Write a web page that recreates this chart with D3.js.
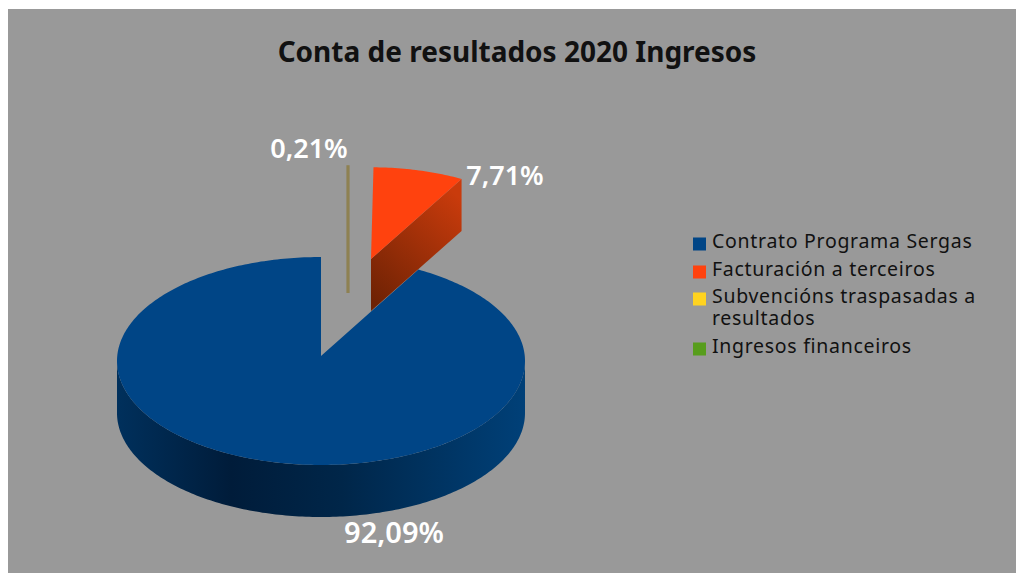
<!DOCTYPE html>
<html>
<head>
<meta charset="utf-8">
<script src="https://cdnjs.cloudflare.com/ajax/libs/d3/7.8.5/d3.min.js"></script>
<style>
html, body { margin: 0; background: #fff; }
svg { display: block; }
text { font-family: "Noto Sans", sans-serif; }
</style>
</head>
<body>
<script>
//chart data
var title = 'Conta de resultados 2020 Ingresos'
var categories = ['Contrato Programa Sergas', 'Facturación a terceiros', 'Subvencións traspasadas a resultados', 'Ingresos financeiros']
var values = [92.09, 7.71, 0.21, 0]
var colors = ['#004586', '#ff420e', '#ffd320', '#579d1c']
//clockwise order of the slices, starting at 12 o'clock
var pieOrder = [2, 1, 0, 3]

var w = 1016,
    h = 573,
    cx = 321, //center of the ellipse
    cy = 361,
    rx = 204, //horizontal radius
    ry = 104, //vertical radius
    apexLift = 5, //the apex sits a bit above the ellipse center (perspective)
    depth = 52

//how each slice is pulled out of the pie
var explode = [
    { dx: 0, dy: 0, k: 1, depth: depth },
    { dx: 50, dy: -97, k: 0.93, depth: depth },
    { dx: 26, dy: -97, k: 0.95, depth: 34 },
    { dx: 0, dy: 0, k: 1, depth: 0 }
]

var svg = d3.select('body').append('svg')
    .attr('width', w)
    .attr('height', h)

var defs = svg.append('defs')

//shading of the blue outer wall
var wall = defs.append('linearGradient')
    .attr('id', 'wall-blue')
    .attr('gradientUnits', 'userSpaceOnUse')
    .attr('x1', 117).attr('x2', 525).attr('y1', 0).attr('y2', 0)
wall.selectAll('stop')
    .data([[0, '#00305c'], [0.28, '#001c3a'], [0.55, '#002649'], [1, '#004078']])
    .enter().append('stop')
    .attr('offset', function(d) { return d[0] })
    .attr('stop-color', function(d) { return d[1] })

//shading of the orange cut face
var cut = defs.append('linearGradient')
    .attr('id', 'cut-orange')
    .attr('gradientUnits', 'userSpaceOnUse')
    .attr('x1', 371).attr('y1', 300).attr('x2', 462).attr('y2', 200)
cut.selectAll('stop')
    .data([[0, '#6e2204'], [1, '#c93b0c']])
    .enter().append('stop')
    .attr('offset', function(d) { return d[0] })
    .attr('stop-color', function(d) { return d[1] })

//background
svg.append('rect')
    .attr('x', 8).attr('y', 9)
    .attr('width', w - 8).attr('height', h - 9)
    .attr('fill', '#999999')

svg.append('text')
    .attr('x', 517).attr('y', 62)
    .attr('text-anchor', 'middle')
    .attr('font-size', 28)
    .attr('font-weight', 700)
    .attr('fill', '#111')
    .text(title)

//angle layout, d3.pie gives the angles in the order above
var slices = d3.pie()
    .sort(function(a, b) { return pieOrder.indexOf(a) - pieOrder.indexOf(b) })
    .value(function(i) { return values[i] })(d3.range(values.length))

var line = d3.line()

//angle clockwise from 12 o'clock -> screen point
function project(a, e, down) {
    return [cx + e.dx + rx * Math.sin(a) * e.k, cy + e.dy - ry * Math.cos(a) * e.k + (down || 0)]
}

function arcPoints(a0, a1, e, down) {
    var n = Math.max(2, Math.ceil(Math.abs(a1 - a0) * 60))
    return d3.range(n + 1).map(function(i) {
        return project(a0 + (a1 - a0) * i / n, e, down)
    })
}

function apex(e, down) {
    return [cx + e.dx, cy - apexLift + e.dy + (down || 0)]
}

function drawSlice(s) {
    var i = s.data, e = explode[i]
    if (values[i] === 0) return
    var g = svg.append('g').attr('class', 'slice')

    //outer wall, only the part facing the viewer
    var a0 = Math.max(s.startAngle, Math.PI / 2),
        a1 = Math.min(s.endAngle, Math.PI * 3 / 2)
    if (a1 > a0) {
        var top = arcPoints(a0, a1, e), bottom = arcPoints(a1, a0, e, e.depth)
        g.append('path')
            .attr('d', line(top.concat(bottom)) + 'Z')
            .attr('fill', 'url(#wall-blue)')
    }

    //cut face of the exploded slices
    if (i === 1) {
        var c = project(s.endAngle, e)
        g.append('path')
            .attr('d', line([apex(e), c, [c[0], c[1] + e.depth], apex(e, e.depth)]) + 'Z')
            .attr('fill', 'url(#cut-orange)')
    }

    //the thin yellow slice is only a dull stripe in the picture
    if (i === 2) {
        var t = project(s.startAngle, e)
        g.append('line')
            .attr('x1', t[0] + 1).attr('x2', t[0] + 1)
            .attr('y1', t[1]).attr('y2', apex(e, e.depth)[1])
            .attr('stroke', '#8e8152')
            .attr('stroke-width', 3.2)
        return
    }

    var face = [apex(e)].concat(arcPoints(s.startAngle, s.endAngle, e))
    g.append('path')
        .attr('d', line(face) + 'Z')
        .attr('fill', colors[i])
}

//back slices first
drawSlice(slices.filter(function(s) { return s.data === 0 })[0])
drawSlice(slices.filter(function(s) { return s.data === 2 })[0])
drawSlice(slices.filter(function(s) { return s.data === 1 })[0])

//data labels
var pct = d3.format('.2f')
var labelPos = [[394, 543, 29], [505, 185, 27], [309, 158, 27]]
svg.selectAll('.label')
    .data(labelPos)
    .enter().append('text')
    .attr('class', 'label')
    .attr('x', function(d) { return d[0] })
    .attr('y', function(d) { return d[1] })
    .attr('text-anchor', 'middle')
    .attr('font-size', function(d) { return d[2] })
    .attr('font-weight', 600)
    .attr('fill', '#fff')
    .text(function(d, i) { return pct(values[i]).replace('.', ',') + '%' })

//legend
var legendLines = [['Contrato Programa Sergas'], ['Facturación a terceiros'], ['Subvencións traspasadas a', 'resultados'], ['Ingresos financeiros']]
var legendY = [248, 276, 303, 353]
var legend = svg.selectAll('.legend')
    .data(categories)
    .enter().append('g')
    .attr('class', 'legend')
    .attr('transform', function(d, i) { return 'translate(693,' + legendY[i] + ')' })

legend.append('rect')
    .attr('y', -10.5)
    .attr('width', 13)
    .attr('height', 13)
    .attr('fill', function(d, i) { return colors[i] })

legend.append('text')
    .attr('font-size', 19.5)
    .attr('letter-spacing', 0.7)
    .attr('fill', '#111')
    .selectAll('tspan')
    .data(function(d, i) { return legendLines[i] })
    .enter().append('tspan')
    .attr('x', 19)
    .attr('dy', function(d, i) { return i ? 22 : 0 })
    .text(function(d) { return d })
</script>
</body>
</html>
